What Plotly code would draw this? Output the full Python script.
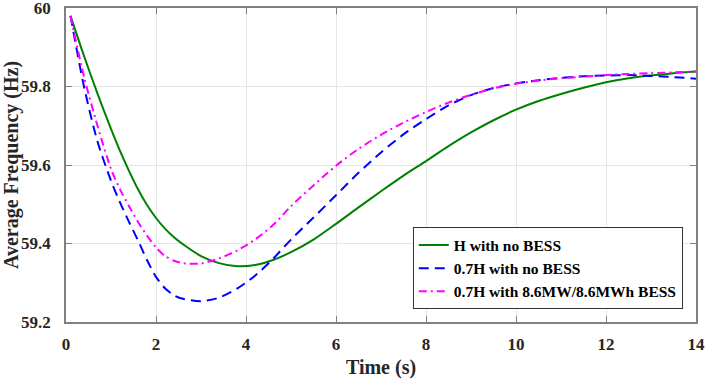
import plotly.graph_objects as go

time_s = [0.1, 0.4, 0.7, 1.0, 1.2, 1.4, 1.6, 1.8, 2.0, 2.2, 2.4, 2.6, 3.0, 3.4, 3.8, 4.2, 4.6, 5.0, 5.5, 6.0,
          6.5, 7.0, 7.5, 8.0, 8.5, 9.0, 9.5, 10.0, 10.5, 11.0, 11.5, 12.0, 12.5, 13.0, 13.5, 14.0]

h_no_bess = [59.98, 59.878, 59.782, 59.692, 59.636, 59.585, 59.538, 59.498, 59.465, 59.438, 59.416, 59.398,
             59.368, 59.35, 59.342, 59.345, 59.358, 59.378, 59.41, 59.45, 59.492, 59.533, 59.573, 59.61,
             59.648, 59.683, 59.714, 59.741, 59.763, 59.781, 59.797, 59.811, 59.821, 59.828, 59.834, 59.838]

h07_no_bess = [59.98, 59.80, 59.66, 59.56, 59.505, 59.455, 59.408, 59.358, 59.315, 59.286, 59.268, 59.259,
               59.253, 59.262, 59.285, 59.318, 59.361, 59.41, 59.466, 59.523, 59.58, 59.632, 59.678, 59.717,
               59.752, 59.778, 59.796, 59.808, 59.816, 59.822, 59.826, 59.828, 59.829, 59.827, 59.824, 59.82]

h07_bess = [59.98, 59.825, 59.70, 59.59, 59.538, 59.495, 59.455, 59.42, 59.39, 59.368, 59.356, 59.35,
            59.349, 59.362, 59.382, 59.41, 59.447, 59.495, 59.548, 59.598, 59.641, 59.677, 59.708, 59.735,
            59.759, 59.779, 59.795, 59.807, 59.815, 59.821, 59.825, 59.829, 59.832, 59.834, 59.836, 59.838]

series_names = ["H with no BESS", "0.7H with no BESS", "0.7H with 8.6MW/8.6MWh BESS"]
x_ticks = [0, 2, 4, 6, 8, 10, 12, 14]
y_ticks = [59.2, 59.4, 59.6, 59.8, 60]
y_tick_labels = ["59.2", "59.4", "59.6", "59.8", "60"]

FONT = "Liberation Serif, Times New Roman, serif"
TXT = "#262626"

fig = go.Figure()
fig.add_trace(go.Scatter(x=time_s, y=h_no_bess, mode="lines", name="<b>" + series_names[0] + "</b>",
                         line=dict(color="#008000", width=2, shape="spline", smoothing=0.8)))
fig.add_trace(go.Scatter(x=time_s, y=h07_no_bess, mode="lines", name="<b>" + series_names[1] + "</b>",
                         line=dict(color="#0000ff", width=2, dash="10px,6px", shape="spline", smoothing=0.8)))
fig.add_trace(go.Scatter(x=time_s, y=h07_bess, mode="lines", name="<b>" + series_names[2] + "</b>",
                         line=dict(color="#ff00ff", width=2, dash="8px,4px,2px,4px", shape="spline", smoothing=0.8)))

axis_common = dict(
    showline=True, linecolor="#808080", linewidth=1.5, mirror="allticks",
    ticks="inside", ticklen=6, tickwidth=1, tickcolor="#808080",
    showgrid=True, gridcolor="#e6e6e6", gridwidth=1, zeroline=False,
    tickfont=dict(family=FONT, size=17, color=TXT),
    automargin=False, ticklabeloverflow="allow",
)

fig.update_layout(
    width=706, height=379,
    margin=dict(l=66, r=10, t=8, b=57),
    paper_bgcolor="white", plot_bgcolor="white",
    font=dict(family=FONT, color=TXT),
    xaxis=dict(range=[0, 14], tickvals=x_ticks, ticktext=["<b>%d</b>" % v for v in x_ticks],
               title=dict(text="<b>Time (s)</b>", font=dict(family=FONT, size=20, color=TXT), standoff=8),
               ticklabelstandoff=6, **axis_common),
    yaxis=dict(range=[59.2, 60], tickvals=y_ticks, ticktext=["<b>%s</b>" % s for s in y_tick_labels],
               title=dict(text="<b>Average Frequency (Hz)</b>", font=dict(family=FONT, size=20, color=TXT), standoff=6),
               ticklabelstandoff=10, **axis_common),
    legend=dict(x=0.979, y=0.04, xanchor="right", yanchor="bottom",
                bgcolor="white", bordercolor="#333333", borderwidth=1,
                font=dict(family=FONT, size=15.5, color="black"),
                tracegroupgap=0, itemwidth=30),
    showlegend=True,
)

fig.write_html("out.html", config={"displayModeBar": False},
               post_script="document.body.style.margin='0';")
